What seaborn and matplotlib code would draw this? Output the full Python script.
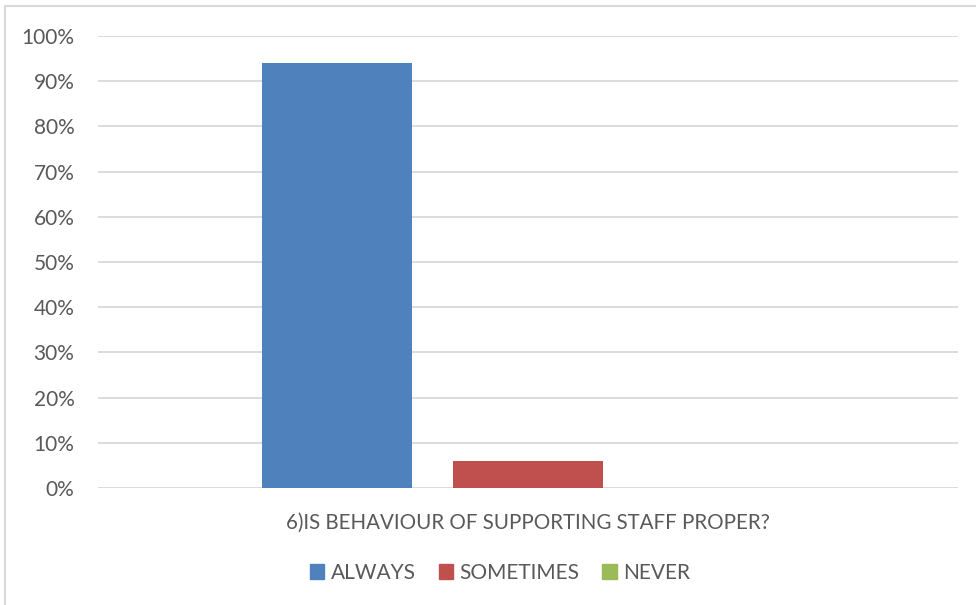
import pandas as pd
import matplotlib.pyplot as plt
import seaborn as sns
from matplotlib.patches import Rectangle
from matplotlib.ticker import PercentFormatter

# survey answers for question 6 (share of respondents)
question = ["6)IS BEHAVIOUR OF SUPPORTING STAFF PROPER?"]
answers = ["ALWAYS", "SOMETIMES", "NEVER"]
shares = [0.94, 0.06, 0.0]
colors = ["#4f81bd", "#c0504d", "#9bbb59"]

df = pd.DataFrame({
    "question": question * len(answers),
    "answer": answers,
    "share": shares,
})

sns.set_style("white")
plt.rcParams["font.family"] = ["Lato", "DejaVu Sans"]
TEXT = "#595959"

fig = plt.figure(figsize=(9.76, 6.05), dpi=100)
ax = fig.add_axes([98 / 976, 1 - 488 / 605, 860 / 976, 452 / 605])

sns.barplot(data=df, x="question", y="share", hue="answer", palette=colors,
            width=0.666, gap=0.21, saturation=1, linewidth=0, ax=ax, legend=False)

ax.set_ylim(0, 1)
ax.set_xlim(-0.5, 0.5)
ax.set_yticks([i / 10 for i in range(11)])
ax.yaxis.set_major_formatter(PercentFormatter(1.0, decimals=0))
ax.grid(axis="y", color="#d9d9d9", linewidth=1.3)
ax.set_axisbelow(True)
for s in ax.spines.values():
    s.set_visible(False)
ax.set_xlabel("")
ax.set_ylabel("")
ax.tick_params(axis="both", length=0, labelsize=15, labelcolor=TEXT)
ax.tick_params(axis="x", labelsize=14.8)
ax.tick_params(axis="y", pad=17)
ax.tick_params(axis="x", pad=18)

handles = [Rectangle((0, 0), 1, 1, color=c) for c in colors]
fig.legend(handles, answers, loc="center", bbox_to_anchor=(500 / 976, 1 - 573 / 605),
           ncol=3, frameon=False, fontsize=15, labelcolor=TEXT,
           handlelength=0.7, handleheight=0.7, handletextpad=0.3, columnspacing=1.1)

# light outer frame like the exported chart area
fig.patches.append(Rectangle((5 / 976, -0.1), 1.1, 1 - 6 / 605 + 0.1,
                             transform=fig.transFigure, fill=False,
                             edgecolor="#d9d9d9", linewidth=1.5))

fig.savefig("out.png", dpi=100)
plt.close(fig)
